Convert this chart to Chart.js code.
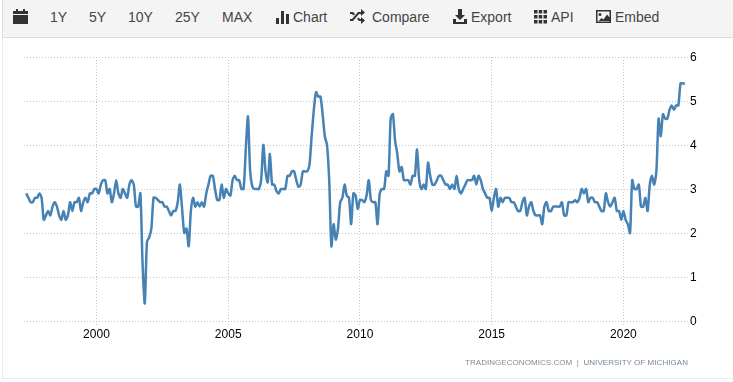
<!DOCTYPE html>
<html>
<head>
<meta charset="utf-8">
<title>Inflation expectations</title>
<script src="https://cdn.jsdelivr.net/npm/chart.js@4"></script>
<style>
body { margin: 0; background: #fff; font-family: "Liberation Sans", Arial, sans-serif; overflow: hidden; }
#page { position: relative; width: 733px; height: 382px; overflow: hidden; }
#frame { position: absolute; left: 2px; top: 0; width: 740px; height: 378px; border-left: 1px solid #eee; border-bottom: 1px solid #eee; }
#bar { position: absolute; left: 2px; top: 0; width: 740px; height: 37px; background: #f4f4f4; border-left: 1px solid #ddd; border-bottom: 1px solid #ddd; }
#bar span { position: absolute; top: 9px; font-size: 14px; line-height: 16px; color: #444; white-space: nowrap; }
#bar svg { position: absolute; fill: #333; }
#src { position: absolute; left: 465px; top: 358px; font-size: 8px; line-height: 10px; letter-spacing: .05px; color: #8a8a8a; white-space: pre; }
#src b { font-weight: normal; color: #76879c; }
canvas { position: absolute; left: 0; top: 0; }
</style>
</head>
<body>
<div id="page">
  <div id="frame"></div>
  <canvas id="myChart" width="733" height="382"></canvas>
  <div id="bar"></div>
  <div id="src">TRADINGECONOMICS.COM  |  <b>UNIVERSITY OF MICHIGAN</b></div>
</div>
<script>
//Первая точка ряда: май 1997, дальше по месяцам
var startYear = 1997;
var startMonth = 5;

var values = [
    2.9, 2.8, 2.7, 2.7, 2.8, 2.8, 2.9, 2.8, 2.3, 2.4,
    2.5, 2.4, 2.6, 2.7, 2.6, 2.4, 2.3, 2.5, 2.3, 2.4,
    2.7, 2.5, 2.7, 2.7, 2.8, 2.5, 2.7, 2.8, 2.7, 2.9,
    2.9, 3.0, 3.0, 2.9, 3.1, 3.2, 3.2, 2.9, 3.0, 2.7,
    2.9, 3.2, 2.9, 2.8, 3.0, 2.9, 2.8, 3.1, 3.2, 3.1,
    2.6, 2.6, 2.9, 1.3, 0.4, 1.8, 1.9, 2.1, 2.8, 2.8,
    2.75, 2.7, 2.7, 2.6, 2.6, 2.5, 2.4, 2.5, 2.5, 2.7,
    3.1, 2.55, 2.0, 2.1, 1.7, 2.5, 2.8, 2.6, 2.7, 2.6,
    2.7, 2.6, 2.9, 3.1, 3.3, 3.3, 3.0, 2.75, 2.75, 3.1,
    2.8, 3.0, 2.9, 2.85, 3.2, 3.3, 3.2, 3.2, 3.0, 3.0,
    3.9, 4.65, 3.4, 3.05, 3.0, 3.0, 3.0, 3.2, 4.0, 3.4,
    3.15, 3.8, 3.1, 3.1, 2.95, 2.9, 3.0, 3.0, 3.0, 3.3,
    3.3, 3.4, 3.4, 3.2, 3.05, 3.1, 3.4, 3.4, 3.4, 3.55,
    4.2, 4.8, 5.2, 5.1, 5.1, 4.7, 4.2, 4.0, 3.2, 1.7,
    2.2, 1.85, 2.1, 2.7, 2.8, 3.1, 2.85, 2.8, 2.2, 2.9,
    2.85, 2.55, 2.75, 2.75, 2.7, 2.85, 3.2, 2.75, 2.7, 2.7,
    2.2, 2.9, 3.0, 3.0, 3.4, 3.3, 4.6, 4.7, 4.1, 3.8,
    3.4, 3.5, 3.2, 3.2, 3.2, 3.1, 3.3, 3.3, 3.9, 3.2,
    3.0, 3.1, 3.0, 3.6, 3.3, 3.1, 3.1, 3.2, 3.3, 3.3,
    3.2, 3.1, 3.1, 3.0, 3.1, 3.0, 3.3, 3.0, 2.9, 3.0,
    3.1, 3.2, 3.2, 3.2, 3.3, 3.1, 3.3, 3.2, 3.0, 2.9,
    2.8, 2.8, 2.5, 2.8, 3.0, 2.6, 2.8, 2.7, 2.8, 2.8,
    2.8, 2.7, 2.7, 2.6, 2.5, 2.5, 2.7, 2.8, 2.4, 2.6,
    2.7, 2.5, 2.4, 2.4, 2.4, 2.2, 2.6, 2.7, 2.5, 2.5,
    2.6, 2.6, 2.6, 2.6, 2.7, 2.4, 2.4, 2.7, 2.7, 2.7,
    2.75, 2.7, 2.8, 3.0, 2.9, 3.0, 2.7, 2.8, 2.8, 2.7,
    2.7, 2.6, 2.5, 2.5, 2.9, 2.7, 2.6, 2.7, 2.8, 2.5,
    2.5, 2.3, 2.5, 2.3, 2.2, 2.0, 3.2, 3.0, 3.0, 3.1,
    2.6, 2.6, 2.8, 2.5, 3.1, 3.3, 3.1, 3.4, 4.6, 4.2,
    4.7, 4.6, 4.6, 4.8, 4.9, 4.8, 4.9, 4.9, 5.4, 5.4, 5.4
];

var xTicks = [2000, 2005, 2010, 2015, 2020];
var yTicks = [0, 1, 2, 3, 4, 5, 6];

var tools = [
    { text: '1Y', x: 49 }, { text: '5Y', x: 88 }, { text: '10Y', x: 127 },
    { text: '25Y', x: 174 }, { text: 'MAX', x: 221 }, { text: 'Chart', x: 292 },
    { text: 'Compare', x: 371 }, { text: 'Export', x: 470 }, { text: 'API', x: 550 },
    { text: 'Embed', x: 614 }
];

//Значки панели
var icons = [
    { x: 12, w: 15, d: 'M0 2h15v3H0zM3 0h2v2H3zM10 0h2v2h-2zM0 6h15v9H0z' },
    { x: 275, w: 14, d: 'M0 9h3v6H0zM5 2h3v13H5zM10 5h3v10h-3z' },
    { x: 349, w: 15, d: 'M0 3h3l2 2-1.5 1.5L2 5H0zM0 10h2l6-7h3V0l4 3.5L11 7V5H9l-6 7H0zM8.5 8.5L10 10h1V8l4 3.5L11 15v-3H9l-2-2z' },
    { x: 452, w: 14, d: 'M5 0h4v6h3l-5 5-5-5h3zM0 10h3v3h8v-3h3v5H0z' },
    { x: 533, w: 13, d: 'M0 1h3.5v3.5H0zM4.7 1h3.5v3.5H4.7zM9.5 1H13v3.5H9.5zM0 6h3.5v3.5H0zM4.7 6h3.5v3.5H4.7zM9.5 6H13v3.5H9.5zM0 11h3.5v3.5H0zM4.7 11h3.5v3.5H4.7zM9.5 11H13v3.5H9.5z' },
    { x: 595, w: 15, d: 'M0 1h15v13H0zM1.5 2.5v10h12v-10zM4 4a1.5 1.5 0 1 1 0 3 1.5 1.5 0 0 1 0-3zM2.5 12l3-3 2 1.5 3.5-5 2.5 3V12z' }
];

var bar = document.getElementById('bar');
var html = '';
icons.forEach(function(ic) {
    html += '<svg style="left:' + (ic.x - 2) + 'px;top:9px" width="' + ic.w + '" height="15" viewBox="0 0 ' + ic.w + ' 15"><path fill-rule="evenodd" d="' + ic.d + '"/></svg>';
});
tools.forEach(function(t) {
    html += '<span style="left:' + (t.x - 2) + 'px">' + t.text + '</span>';
});
bar.innerHTML = html;

var points = [];
values.forEach(function(v, i) {
    points.push({ x: startYear + (startMonth - 1 + i) / 12, y: v });
});

var ctx = document.getElementById('myChart').getContext('2d');

new Chart(ctx, {
    type: 'line',
    data: {
        datasets: [{
            label: 'Inflation expectations',
            data: points,
            borderColor: '#4682b4',
            borderWidth: 2.5,
            pointRadius: 0,
            tension: 0.25,
            fill: false
        }]
    },
    options: {
        responsive: false,
        animation: false,
        events: [],
        layout: { padding: { left: 24, top: 57, right: 0, bottom: 0 } },
        plugins: { legend: { display: false }, tooltip: { enabled: false } },
        scales: {
            x: {
                type: 'linear',
                min: 1997.25,
                max: 2022.45,
                afterBuildTicks: function(scale) {
                    scale.ticks = xTicks.map(function(v) { return { value: v }; });
                },
                afterFit: function(scale) { scale.height = 61; },
                ticks: {
                    maxRotation: 0,
                    autoSkip: false,
                    padding: 2,
                    color: '#000',
                    font: { family: '"Liberation Sans"', size: 12 },
                    callback: function(v) { return String(v); }
                },
                grid: { color: '#c4c4c4', tickLength: 4, tickColor: '#c4c4c4', lineWidth: 1, tickBorderDash: [1, 2] },
                border: { display: false, dash: [1, 2] }
            },
            y: {
                position: 'right',
                min: 0,
                max: 6,
                afterBuildTicks: function(scale) {
                    scale.ticks = yTicks.map(function(v) { return { value: v }; });
                },
                afterFit: function(scale) { scale.width = 45; },
                ticks: {
                    padding: 2,
                    labelOffset: 1,
                    color: '#000',
                    font: { family: '"Liberation Sans"', size: 12 }
                },
                grid: { color: '#c4c4c4', drawTicks: false, lineWidth: 1 },
                border: { display: false, dash: [1, 2] }
            }
        }
    }
});
</script>
</body>
</html>
